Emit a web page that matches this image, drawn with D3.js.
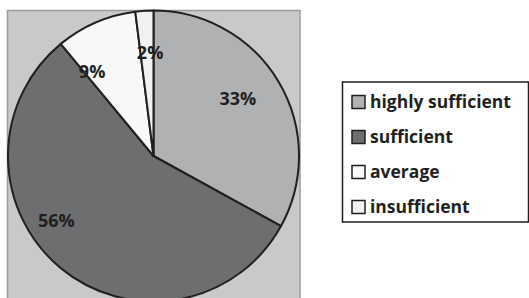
<!DOCTYPE html>
<html><head><meta charset="utf-8">
<script src="https://cdn.jsdelivr.net/npm/d3@7"></script>
<style>body{margin:0;background:#fff;}svg{display:block;}</style>
</head><body>
<svg id="c" width="529" height="298"></svg>
<script>
const categories = ["highly sufficient", "sufficient", "average", "insufficient"];
const values = [33, 56, 9, 2];
const labels = ["33%", "56%", "9%", "2%"];
const colors = ["#b0b1b3", "#6d6e70", "#f8f8f8", "#f1f1f1"];

const svg = d3.select("#c");
const font = "'Open Sans', 'DejaVu Sans', sans-serif";

// plot area background
svg.append("rect").attr("x", 7.5).attr("y", 10.5).attr("width", 292.5).attr("height", 300)
  .attr("fill", "#c8c9cb").attr("stroke", "#9a9b9d").attr("stroke-width", 1.5);

const cx = 153.5, cy = 156, r = 145.5;
const pie = d3.pie().sort(null).value(d => d)(values);
const arc = d3.arc().innerRadius(0).outerRadius(r);
const g = svg.append("g").attr("transform", `translate(${cx},${cy})`);
g.selectAll("path").data(pie).join("path")
  .attr("d", arc).attr("fill", (d, i) => colors[i])
  .attr("stroke", "#231f20").attr("stroke-width", 2).attr("stroke-linejoin", "round");

// label radius factors (fraction of radius) and angular nudges, tuned to reference
const lr = [0.70, 0.80, 0.715, 0.71];
const nudge = [-0.06, 0.295, -0.223, 0.03];
pie.forEach((d, i) => {
  const a = (d.startAngle + d.endAngle) / 2 + nudge[i];
  const x = Math.sin(a) * r * lr[i], y = -Math.cos(a) * r * lr[i];
  g.append("text").attr("x", x).attr("y", y).attr("dy", "0.35em")
    .attr("text-anchor", "middle").attr("font-family", font).attr("font-weight", 700)
    .attr("font-size", 18).attr("fill", "#231f20").text(labels[i]);
});

// legend
svg.append("rect").attr("x", 342.5).attr("y", 82).attr("width", 186).attr("height", 140)
  .attr("fill", "#fff").attr("stroke", "#231f20").attr("stroke-width", 1.5);
const ly = d3.scalePoint().domain(categories).range([102, 207]);
const lg = svg.append("g");
categories.forEach((c, i) => {
  lg.append("rect").attr("x", 352).attr("y", ly(c) - 6.5).attr("width", 13).attr("height", 13)
    .attr("fill", colors[i]).attr("stroke", "#231f20").attr("stroke-width", 1.5);
  lg.append("text").attr("x", 370).attr("y", ly(c)).attr("dy", "0.35em")
    .attr("font-family", font).attr("font-weight", 700).attr("font-size", 17.5)
    .attr("fill", "#231f20").text(c);
});
</script>
</body></html>
